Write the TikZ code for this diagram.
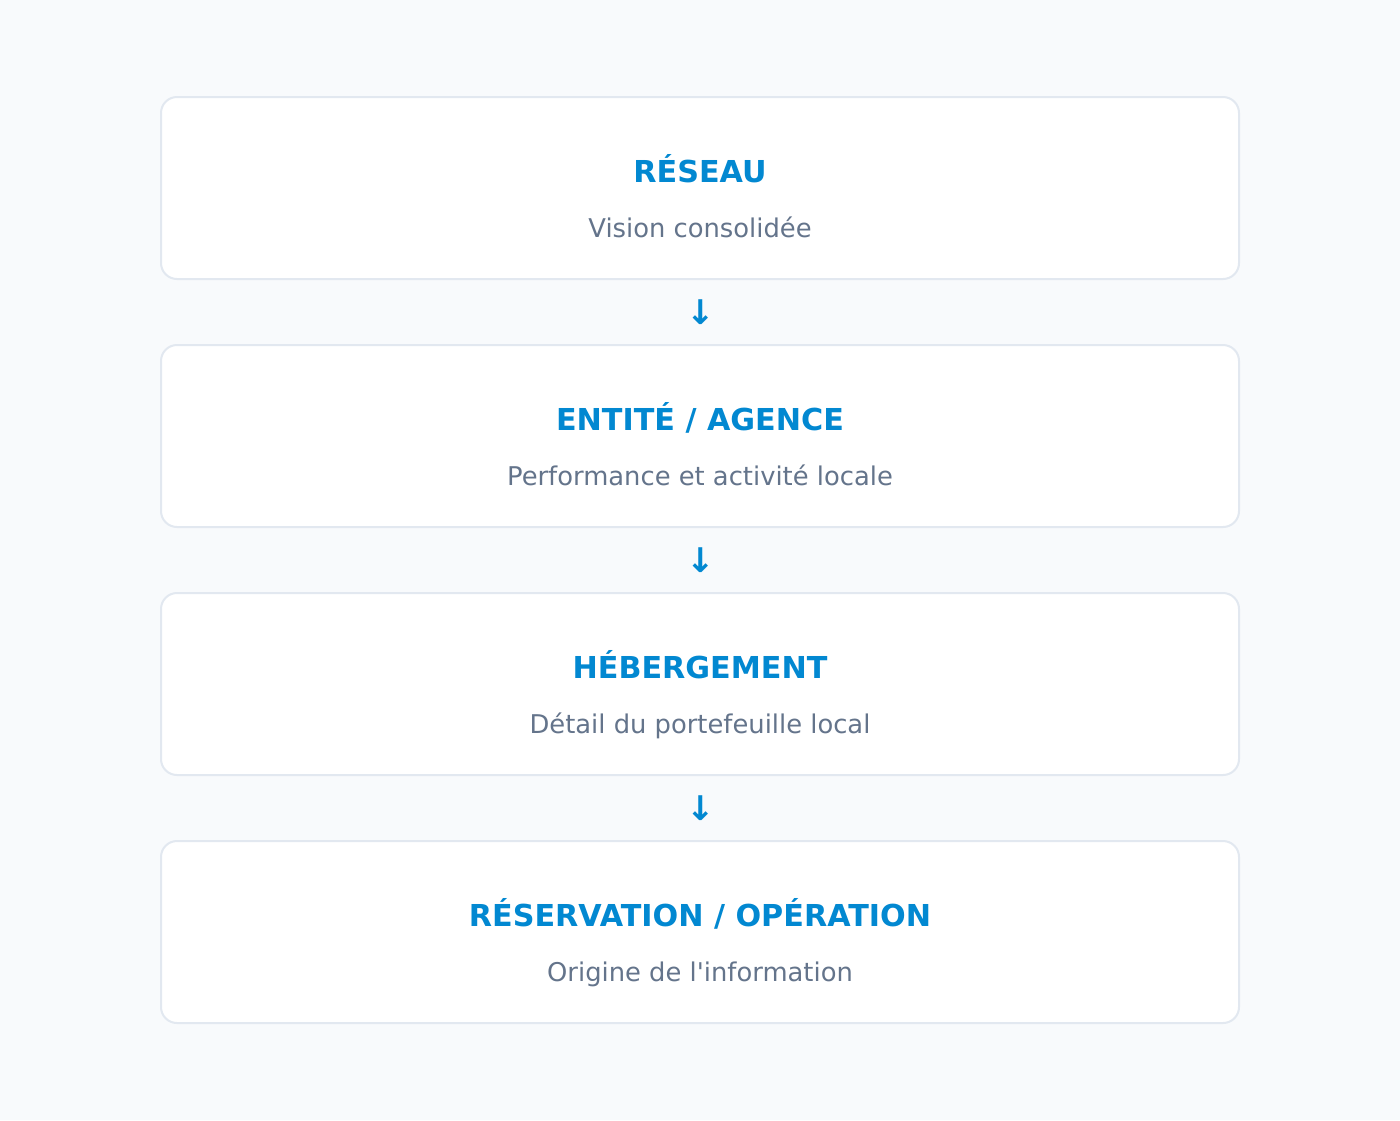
\documentclass[tikz,border=0pt]{standalone}
\usepackage{fontspec}
\setmainfont{DejaVu Sans}
\definecolor{pagebg}{HTML}{F8FAFC}
\definecolor{cardline}{HTML}{E2E8F0}
\definecolor{titleblue}{HTML}{0288D1}
\definecolor{subgray}{HTML}{64748B}
\tikzset{
  card/.style={draw=cardline, line width=1pt, fill=white, rounded corners=8pt,
    minimum width=539pt, minimum height=91pt, inner sep=0pt},
  cardtitle/.style={anchor=base, text=titleblue, font=\fontsize{15.1}{18}\selectfont\bfseries},
  cardsub/.style={anchor=base, text=subgray, font=\fontsize{12.9}{16}\selectfont},
  downarrow/.style={text=titleblue, font=\fontsize{17}{20}\selectfont\bfseries, inner sep=0pt}
}
\begin{document}
\begin{tikzpicture}[x=0.5pt, y=-0.5pt]
\fill [pagebg] (0,0) rectangle (1400,1120);
\useasboundingbox (0,0) rectangle (1400,1120);

\foreach \i/\ttl/\sub in {0/{RÉSEAU}/{Vision consolidée},
  1/{ENTITÉ / AGENCE}/{Performance et activité locale},
  2/{HÉBERGEMENT}/{Détail du portefeuille local},
  3/{RÉSERVATION / OPÉRATION}/{Origine de l\textquotesingle information}}
{
\node [card] (lvl\i) at (700,188+248*\i) {};
\node [cardtitle] (lvl\i title) at (700,182+248*\i) {\ttl};
\node [cardsub] (lvl\i sub) at (700,237+248*\i) {\sub};
}

\foreach \i in {0,1,2}
{
\node [downarrow] (arr\i) at (701,312+248*\i) {↓};
}

\end{tikzpicture}
\end{document}
